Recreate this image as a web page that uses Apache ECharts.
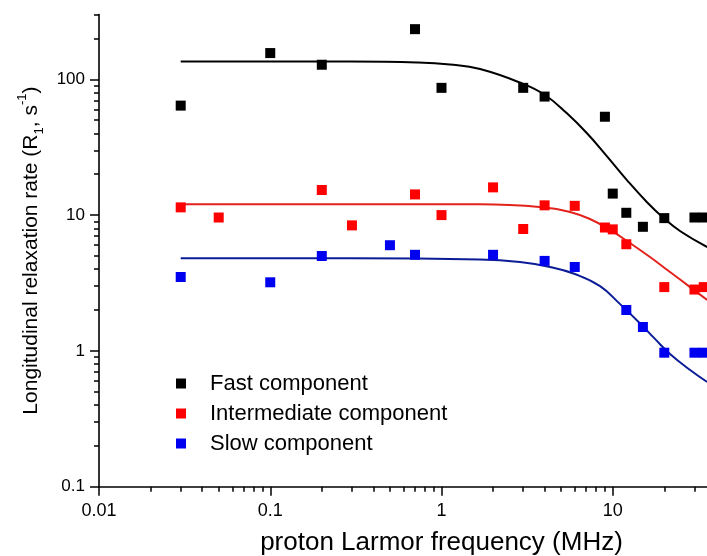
<!DOCTYPE html>
<html>
<head>
<meta charset="utf-8">
<script src="https://cdn.jsdelivr.net/npm/echarts@6/dist/echarts.min.js"></script>
<style>html,body{margin:0;padding:0;background:#fff}#c{width:707px;height:556px}</style>
</head>
<body>
<div id="c"></div>
<script>
const xMajorTicks = [0.01, 0.1, 1, 10, 100];
const xMinorTicks = [0.02,0.03,0.04,0.05,0.06,0.07,0.08,0.09,0.2,0.3,0.4,0.5,0.6,0.7,0.8,0.9,2,3,4,5,6,7,8,9,20,30,40,50,60,70,80,90];
const yMajorTicks = [0.1, 1, 10, 100];
const yMinorTicks = [0.2,0.3,0.4,0.5,0.6,0.7,0.8,0.9,2,3,4,5,6,7,8,9,20,30,40,50,60,70,80,90,200,300];

const seriesNames = ['Fast component', 'Intermediate component', 'Slow component'];

const fastX = [0.03, 0.1, 0.2, 0.7, 1, 3, 4, 9, 10, 12, 15, 20, 30, 34];
const fastY = [64, 156, 128, 234, 86.5, 86.5, 74.6, 53, 14.4, 10.4, 8.2, 9.5, 9.6, 9.6];
const interX = [0.03, 0.05, 0.2, 0.3, 0.7, 1, 2, 3, 4, 6, 9, 10, 12, 20, 30, 34];
const interY = [11.4, 9.6, 15.3, 8.4, 14.2, 10, 16, 7.9, 11.8, 11.7, 8.1, 7.85, 6.1, 2.95, 2.83, 2.95];
const slowX = [0.03, 0.1, 0.2, 0.5, 0.7, 2, 4, 6, 12, 15, 20, 30, 34];
const slowY = [3.5, 3.2, 5.0, 6.0, 5.1, 5.1, 4.6, 4.15, 2.0, 1.5, 0.97, 0.97, 0.97];

const fastFitX = [0.03, 0.29, 0.72, 1.12, 1.68, 3.0, 4.02, 5.38, 7.05, 9.23, 12.1, 15.8, 19.8, 24.7, 35.6];
const fastFitY = [135, 135, 133, 128.5, 119, 92.5, 76.6, 56.4, 40.2, 27.2, 18.1, 12.5, 9.52, 7.64, 5.82];
const interFitX = [0.03, 0.29, 1.67, 4.02, 5.63, 7.36, 9.64, 12.6, 16.5, 21.6, 28.3, 35.6];
const interFitY = [12.0, 12.0, 12.0, 11.38, 10.54, 9.36, 7.77, 6.23, 4.91, 3.81, 2.95, 2.37];
const slowFitX = [0.03, 0.29, 1.67, 2.87, 4.30, 6.02, 8.43, 11.0, 14.4, 17.7, 21.6, 28.3, 35.6];
const slowFitY = [4.81, 4.81, 4.71, 4.51, 4.15, 3.68, 3.0, 2.22, 1.60, 1.22, 0.949, 0.723, 0.59];

const FONT = 'Liberation Sans, Arial, sans-serif';
const zip = (xs, ys) => xs.map((x, i) => [x, ys[i]]);
const fmt = v => String(parseFloat(Number(v).toPrecision(4)));

const chart = echarts.init(document.getElementById('c'), null, {renderer: 'canvas'});
const axisLine = {show: true, lineStyle: {color: '#000', width: 1.6}};
const fitLine = (name, xs, ys, color) => ({
  name: name, type: 'line', smooth: 0.45, showSymbol: false,
  data: zip(xs, ys), lineStyle: {color: color, width: 2}, itemStyle: {color: color}, z: 2, clip: false
});
const dots = (name, xs, ys, color) => ({
  name: name, type: 'scatter', symbol: 'rect', symbolSize: 10,
  data: zip(xs, ys), itemStyle: {color: color, opacity: 1}, z: 3, clip: false
});

chart.setOption({
  animation: false,
  backgroundColor: '#fff',
  grid: {left: 99, right: -77, top: 14.5, bottom: 69.3, containLabel: false, outerBoundsMode: 'none'},
  legend: {
    orient: 'vertical', left: 171, top: 367.5,
    itemWidth: 10, itemHeight: 10, itemGap: 8, icon: 'rect',
    data: seriesNames,
    textStyle: {fontSize: 22, color: '#000', fontFamily: FONT, padding: [0, 0, 0, 19]}
  },
  xAxis: [
    {
      type: 'log', logBase: 10, min: 0.01, max: 100, position: 'bottom',
      name: 'proton Larmor frequency (MHz)', nameLocation: 'middle', nameGap: 43,
      nameTextStyle: {fontSize: 26, color: '#000', fontFamily: FONT},
      axisLine: axisLine,
      axisTick: {show: true, inside: false, length: 9, lineStyle: {color: '#000', width: 1.5}, customValues: xMajorTicks},
      axisLabel: {show: true, margin: 15, fontSize: 18, color: '#000', fontFamily: FONT, customValues: xMajorTicks, formatter: fmt},
      splitLine: {show: false}, minorTick: {show: false}
    },
    {
      type: 'log', logBase: 10, min: 0.01, max: 100, position: 'bottom', gridIndex: 0,
      axisLine: {show: false},
      axisTick: {show: true, inside: false, length: 5, lineStyle: {color: '#000', width: 1.5}, customValues: xMinorTicks},
      axisLabel: {show: false}, splitLine: {show: false}
    }
  ],
  yAxis: [
    {
      type: 'log', logBase: 10, min: 0.1, max: 300, position: 'left',
      name: 'Longitudinal relaxation rate (R{sub|1}, s{sup|-1})', nameLocation: 'middle', nameGap: 52,
      nameTextStyle: {fontSize: 21, color: '#000', fontFamily: FONT, lineHeight: 30,
        rich: {
          sub: {fontSize: 13, color: '#000', fontFamily: FONT, verticalAlign: 'bottom', lineHeight: 30},
          sup: {fontSize: 13, color: '#000', fontFamily: FONT, verticalAlign: 'top', lineHeight: 30}
        }},
      axisLine: axisLine,
      axisTick: {show: true, inside: false, length: 9, lineStyle: {color: '#000', width: 1.5}, customValues: yMajorTicks},
      axisLabel: {show: true, margin: 14, fontSize: 17, color: '#000', fontFamily: FONT, customValues: yMajorTicks, formatter: fmt},
      splitLine: {show: false}, minorTick: {show: false}
    },
    {
      type: 'log', logBase: 10, min: 0.1, max: 300, position: 'left', gridIndex: 0,
      axisLine: {show: false},
      axisTick: {show: true, inside: false, length: 5, lineStyle: {color: '#000', width: 1.5}, customValues: yMinorTicks},
      axisLabel: {show: false}, splitLine: {show: false}
    }
  ],
  series: [
    fitLine('fit-fast', fastFitX, fastFitY, '#000'),
    fitLine('fit-inter', interFitX, interFitY, '#e3221c'),
    fitLine('fit-slow', slowFitX, slowFitY, '#0b1c96'),
    dots(seriesNames[0], fastX, fastY, '#000'),
    dots(seriesNames[1], interX, interY, '#ff0000'),
    dots(seriesNames[2], slowX, slowY, '#0000f0')
  ]
});
</script>
</body>
</html>
